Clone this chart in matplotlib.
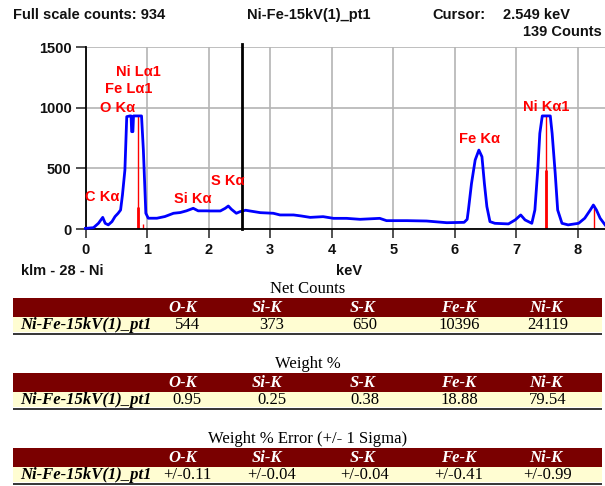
import matplotlib
matplotlib.use("Agg")
import matplotlib.pyplot as plt
from matplotlib.patches import Rectangle

# ---------------- data ----------------
energy_kev = [0.0, 0.13, 0.21, 0.28, 0.32, 0.37, 0.43, 0.48, 0.53, 0.57, 0.60, 0.64, 0.67,
              0.72, 0.74, 0.75, 0.77, 0.78, 0.91, 0.94, 0.98, 1.02, 1.16, 1.29, 1.43, 1.54,
              1.64, 1.75, 1.83, 1.97, 2.02, 2.19, 2.27, 2.32, 2.37, 2.45, 2.51, 2.60, 2.67,
              2.84, 3.05, 3.16, 3.38, 3.50, 3.65, 3.86, 4.03, 4.24, 4.46, 4.78, 4.89, 5.22,
              5.54, 5.87, 6.15, 6.20, 6.22, 6.27, 6.33, 6.39, 6.44, 6.48, 6.52, 6.57, 6.65,
              6.87, 6.98, 7.07, 7.14, 7.25, 7.30, 7.35, 7.38, 7.42, 7.55, 7.58, 7.63, 7.67,
              7.74, 7.84, 8.01, 8.11, 8.20, 8.25, 8.30, 8.36, 8.44]
counts = [5, 11, 47, 96, 47, 34, 61, 103, 130, 157, 280, 487, 928,
          934, 934, 804, 804, 934, 934, 652, 130, 89, 89, 103, 130, 136,
          150, 171, 150, 150, 149, 149, 171, 190, 163, 130, 143, 155, 149,
          135, 130, 116, 116, 108, 96, 102, 88, 88, 80, 88, 69, 69,
          66, 52, 55, 80, 157, 375, 570, 652, 597, 375, 185, 61, 47,
          42, 75, 116, 75, 47, 157, 515, 790, 934, 934, 790, 460, 157,
          47, 34, 47, 89, 157, 198, 157, 89, 34]

line_labels = ["Ni L\u03b11", "Fe L\u03b11", "O K\u03b1", "C K\u03b1", "Si K\u03b1", "S K\u03b1",
               "Fe K\u03b1", "Ni K\u03b11"]
line_energy = [0.851, 0.705, 0.525, 0.277, 1.740, 2.307, 6.404, 7.478]
label_counts = [1297, 1156, 999, 264, 248, 396, 743, 1008]

marker_energy = [0.845, 0.94, 7.478, 8.265]
marker_height = [934, 40, 934, 198]
marker_bold_energy = [0.845, 7.478]
marker_bold_height = [184, 487]

cursor_kev = 2.549
cursor_counts = 139
full_scale = 934
spectrum_name = "Ni-Fe-15kV(1)_pt1"

x_ticks = [0, 1, 2, 3, 4, 5, 6, 7, 8]
y_ticks = [0, 500, 1000, 1500]

elements = ["O-K", "Si-K", "S-K", "Fe-K", "Ni-K"]
net_counts = [544, 373, 650, 10396, 24119]
weight_pct = [0.95, 0.25, 0.38, 18.88, 79.54]
weight_err = [0.11, 0.04, 0.04, 0.41, 0.99]

# ---------------- figure ----------------
W, H = 605, 486
fig = plt.figure(figsize=(W / 100, H / 100), dpi=100)
fig.patch.set_facecolor("white")

def fx(x):
    return x / W

def fy(y):
    return 1 - y / H

SANS = ["Liberation Sans", "DejaVu Sans"]
SERIF = ["Liberation Serif", "DejaVu Serif"]

x0_px, y0_px = 85.5, 229.0
ax = fig.add_axes([fx(x0_px), fy(y0_px), 1 - fx(x0_px), (y0_px - 47.4) / H])
ax.set_xlim(0, (W - x0_px) / 61.56)
ax.set_ylim(0, 1500)
for s in ["top", "right"]:
    ax.spines[s].set_visible(False)
for s in ["left", "bottom"]:
    ax.spines[s].set_linewidth(1.3)
    ax.spines[s].set_color("black")

ax.set_xticks(x_ticks)
ax.set_yticks(y_ticks)
ax.grid(True, color="#b4b4b4", linewidth=1.2)
ax.set_axisbelow(True)
ax.tick_params(axis="x", direction="out", length=6.5, width=1.2, color="#333333", pad=3.5)
ax.tick_params(axis="y", direction="out", length=7, width=1.2, color="#333333", pad=3)
for lab in ax.get_xticklabels() + ax.get_yticklabels():
    lab.set_fontfamily(SANS)
    lab.set_fontweight("bold")
    lab.set_fontsize(10.5)
    lab.set_color("#111111")

# red line markers
ax.vlines(marker_energy, 0, marker_height, colors="#ff0000", linewidth=1.0, zorder=2)
ax.vlines(marker_bold_energy, 0, marker_bold_height, colors="#ff0000", linewidth=2.0, zorder=2)

# spectrum
ax.plot(energy_kev, counts, color="#0000ff", linewidth=2.0, zorder=3, clip_on=False,
        solid_joinstyle="round")

# cursor
ax.axvline(cursor_kev, ymin=0, ymax=1.02, color="black", linewidth=2.0, zorder=4, clip_on=False)

# peak labels
for lbl, e, c in zip(line_labels, line_energy, label_counts):
    ax.text(e, c, lbl, color="#ff0000", fontsize=10.5, fontweight="bold",
            family=SANS, ha="center", va="center", zorder=5)

# header texts
hdr = dict(fontsize=10.5, fontweight="bold", family=SANS, color="#111111", va="center")
fig.text(fx(13), fy(15), f"Full scale counts: {full_scale}", ha="left", **hdr)
fig.text(fx(309), fy(15), spectrum_name, ha="center", **hdr)
fig.text(fx(432), fy(15), "Cursor:", ha="left", **hdr)
fig.text(fx(570), fy(15), f"{cursor_kev:.3f} keV", ha="right", **hdr)
fig.text(fx(602), fy(32), f"{cursor_counts} Counts", ha="right", **hdr)
fig.text(fx(21), fy(271), "klm - 28 - Ni", ha="left", **hdr)
fig.text(fx(349), fy(271), "keV", ha="center", **hdr)

# ---------------- tables ----------------
col_hdr_x = [183, 267, 363, 459, 546]
col_val_x = [187, 272, 365, 459, 548]

def draw_table(top, title, values):
    fig.text(fx(308), fy(top - 9), title, ha="center", va="center", family=SERIF,
             fontsize=12, color="black")
    # header bar
    fig.patches.append(Rectangle((fx(13), fy(top + 19)), fx(602 - 13), 19 / H,
                                 transform=fig.transFigure, facecolor="#7a0000",
                                 edgecolor="none"))
    # row
    fig.patches.append(Rectangle((fx(13), fy(top + 34)), fx(602 - 13), 15 / H,
                                 transform=fig.transFigure, facecolor="#fffdd2",
                                 edgecolor="none"))
    # bottom rule
    fig.patches.append(Rectangle((fx(13), fy(top + 37)), fx(602 - 13), 2.5 / H,
                                 transform=fig.transFigure, facecolor="#3a3a3a",
                                 edgecolor="none"))
    for name, x in zip(elements, col_hdr_x):
        fig.text(fx(x), fy(top + 10), name, ha="center", va="center", family=SERIF,
                 fontsize=12, fontweight="bold", fontstyle="italic", color="white")
    fig.text(fx(20), fy(top + 26.5), spectrum_name, ha="left", va="center", family=SERIF,
             fontsize=12, fontweight="bold", fontstyle="italic", color="black")
    for v, x in zip(values, col_val_x):
        fig.text(fx(x), fy(top + 26.5), v, ha="center", va="center", family=SERIF,
                 fontsize=12, color="black")

draw_table(298, "Net Counts", [str(v) for v in net_counts])
draw_table(373, "Weight %", [f"{v:.2f}" for v in weight_pct])
draw_table(448, "Weight % Error (+/- 1 Sigma)", [f"+/-{v:.2f}" for v in weight_err])

fig.savefig("out.png", dpi=100, facecolor="white")
